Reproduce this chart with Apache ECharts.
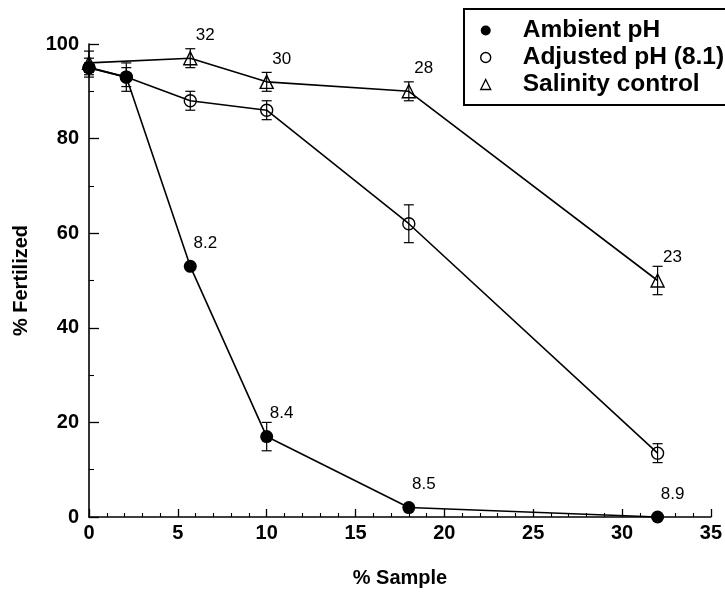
<!DOCTYPE html>
<html>
<head>
<meta charset="utf-8">
<script src="https://cdn.jsdelivr.net/npm/echarts@6/dist/echarts.min.js"></script>
<style>html,body{margin:0;padding:0;background:#fff;}#chart{width:725px;height:593px;}</style>
</head>
<body>
<div id="chart"></div>
<script>
// ---- data ----
const xAmbient = [0, 2.1, 5.7, 10, 18, 32];
const yAmbient = [95, 93, 53, 17, 2, 0];
const errAmbient = [2, 3, 0, 3, 0, 0];
const labelsAmbient = ['', '', '8.2', '8.4', '8.5', '8.9'];

const xAdjusted = [0, 2.1, 5.7, 10, 18, 32];
const yAdjusted = [95, 93, 88, 86, 62, 13.5];
const errAdjusted = [1, 2, 2, 2, 4, 2];

const xSalinity = [0, 5.7, 10, 18, 32];
const ySalinity = [96, 97, 92, 90, 50];
const errSalinity = [2.5, 2, 2, 2, 3];
const labelsSalinity = ['', '32', '30', '28', '23'];

const seriesNames = ['Ambient pH', 'Adjusted pH (8.1)', 'Salinity control'];
const xTickLabels = ['0', '5', '10', '15', '20', '25', '30', '35'];
const yTickLabels = ['0', '20', '40', '60', '80', '100'];

// ---- chart ----
const FONT = "'Liberation Sans', Arial, Helvetica, sans-serif";
const chart = echarts.init(document.getElementById('chart'), null, {renderer: 'canvas'});

function pts(xs, ys) { return xs.map((x, i) => [x, ys[i]]); }
function errPts(xs, ys, es) { return xs.map((x, i) => [x, ys[i], es[i]]); }

function errorBarSeries(xs, ys, es) {
  return {
    type: 'custom',
    z: 1,
    silent: true,
    clip: false,
    data: errPts(xs, ys, es),
    renderItem: function (params, api) {
      const x = api.value(0), y = api.value(1), e = api.value(2);
      if (!e) return null;
      const top = api.coord([x, y + e]);
      const bot = api.coord([x, y - e]);
      const hw = 5;
      const st = {stroke: '#000', lineWidth: 1.2};
      return {
        type: 'group',
        children: [
          {type: 'line', shape: {x1: top[0], y1: top[1], x2: bot[0], y2: bot[1]}, style: st},
          {type: 'line', shape: {x1: top[0] - hw, y1: top[1], x2: top[0] + hw, y2: top[1]}, style: st},
          {type: 'line', shape: {x1: bot[0] - hw, y1: bot[1], x2: bot[0] + hw, y2: bot[1]}, style: st}
        ]
      };
    }
  };
}

function labelCfg(arr) {
  return {
    show: true,
    position: 'inside',
    offset: [15, -23],
    formatter: p => arr[p.dataIndex] || '',
    fontSize: 17,
    fontFamily: FONT,
    color: '#000'
  };
}

const axisLabelStyle = {fontSize: 20, fontWeight: 'bold', fontFamily: FONT, color: '#000'};

const option = {
  animation: false,
  backgroundColor: '#fff',
  grid: {left: 89, right: 7, top: 44, bottom: 75, containLabel: false},
  xAxis: {
    type: 'value', min: 0, max: 35, interval: 5,
    name: '% Sample', nameLocation: 'middle', nameGap: 51,
    nameTextStyle: {fontSize: 20, fontWeight: 'bold', fontFamily: FONT, color: '#000'},
    axisLine: {show: true, lineStyle: {color: '#000', width: 1.6}},
    axisTick: {show: true, inside: true, length: 8, lineStyle: {color: '#000', width: 1.3}},
    minorTick: {show: true, splitNumber: 5, length: 4, lineStyle: {color: '#000', width: 1.1}},
    splitLine: {show: false},
    axisLabel: Object.assign({margin: 6, formatter: v => xTickLabels[Math.round(v / 5)]}, axisLabelStyle)
  },
  yAxis: {
    type: 'value', min: 0, max: 100, interval: 20,
    name: '% Fertilized', nameLocation: 'middle', nameGap: 58,
    nameTextStyle: {fontSize: 20, fontWeight: 'bold', fontFamily: FONT, color: '#000'},
    axisLine: {show: true, lineStyle: {color: '#000', width: 1.6}},
    axisTick: {show: true, inside: true, length: 10, lineStyle: {color: '#000', width: 1.3}},
    minorTick: {show: true, splitNumber: 2, length: 5, lineStyle: {color: '#000', width: 1.1}},
    splitLine: {show: false},
    axisLabel: Object.assign({margin: 10, formatter: v => yTickLabels[Math.round(v / 20)]}, axisLabelStyle)
  },
  legend: {
    orient: 'vertical',
    left: 464, top: 9,
    borderColor: '#000', borderWidth: 2,
    padding: [8, 14, 7, 16],
    itemWidth: 10, itemHeight: 10, itemGap: 0,
    textStyle: {fontSize: 24.5, fontWeight: 'bold', fontFamily: FONT, color: '#000', padding: [0, 0, 0, 27], lineHeight: 27},
    data: [
      {name: seriesNames[0], icon: 'circle', itemStyle: {color: '#000', borderWidth: 0}},
      {name: seriesNames[1], icon: 'circle', itemStyle: {color: 'rgba(0,0,0,0)', borderColor: '#000', borderWidth: 1.4}},
      {name: seriesNames[2], icon: 'triangle', itemStyle: {color: 'rgba(0,0,0,0)', borderColor: '#000', borderWidth: 1.3}}
    ]
  },
  series: [
    errorBarSeries(xSalinity, ySalinity, errSalinity),
    errorBarSeries(xAdjusted, yAdjusted, errAdjusted),
    errorBarSeries(xAmbient, yAmbient, errAmbient),
    {
      name: seriesNames[2], type: 'line', z: 3, clip: false,
      data: pts(xSalinity, ySalinity),
      symbol: 'triangle', symbolSize: 13, showAllSymbol: true,
      lineStyle: {color: '#000', width: 1.6},
      itemStyle: {color: 'rgba(0,0,0,0)', borderColor: '#000', borderWidth: 1.4},
      label: labelCfg(labelsSalinity)
    },
    {
      name: seriesNames[1], type: 'line', z: 3, clip: false,
      data: pts(xAdjusted, yAdjusted),
      symbol: 'circle', symbolSize: 12, showAllSymbol: true,
      lineStyle: {color: '#000', width: 1.6},
      itemStyle: {color: 'rgba(0,0,0,0)', borderColor: '#000', borderWidth: 1.4}
    },
    {
      name: seriesNames[0], type: 'line', z: 4, clip: false,
      data: pts(xAmbient, yAmbient),
      symbol: 'circle', symbolSize: 13, showAllSymbol: true,
      lineStyle: {color: '#000', width: 1.6},
      itemStyle: {color: '#000', borderWidth: 0},
      label: labelCfg(labelsAmbient)
    }
  ]
};
chart.setOption(option);
</script>
</body>
</html>
